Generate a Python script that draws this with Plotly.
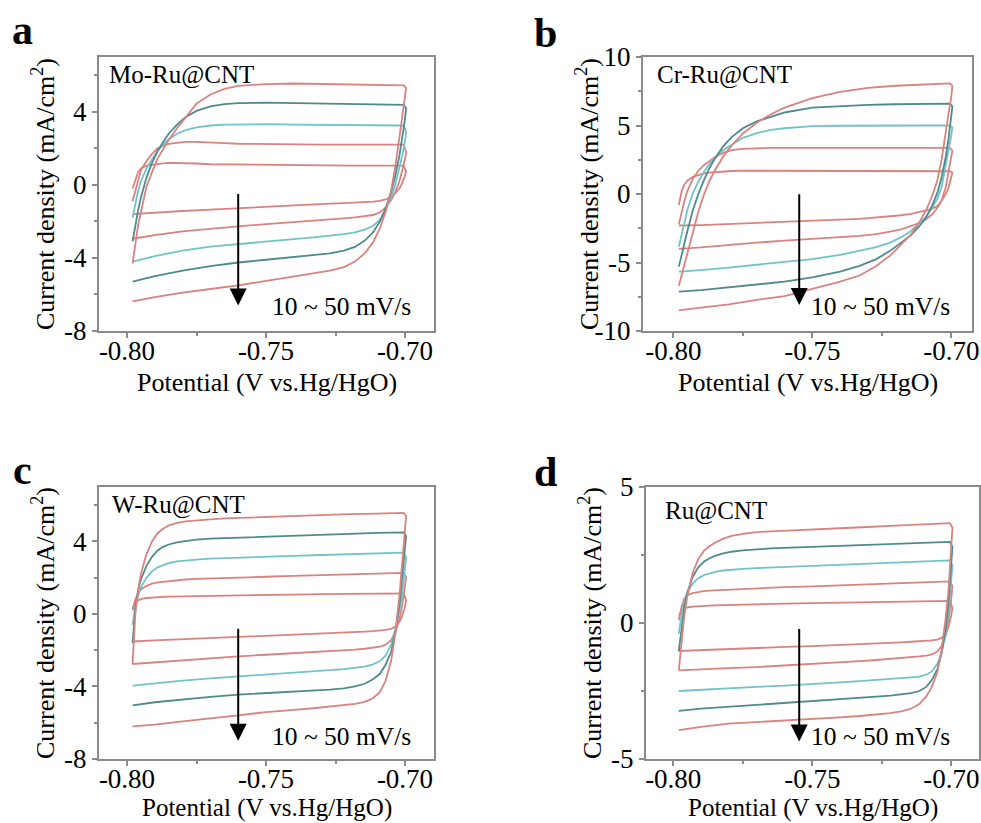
import plotly.graph_objects as go

# ---------------- data ----------------
SCAN_RATES = [10, 20, 30, 40, 50]  # mV/s

# shared potential grids (V vs Hg/HgO): anodic (forward) and cathodic (reverse) sweeps
X_UP = [-0.798, -0.797, -0.796, -0.795, -0.793, -0.791, -0.789, -0.787, -0.785, -0.782,
        -0.779, -0.775, -0.770, -0.765, -0.760, -0.750, -0.740, -0.730, -0.720, -0.710, -0.7005]
X_DN = [-0.6996, -0.7000, -0.7010, -0.7020, -0.7035, -0.7050, -0.7070, -0.7090, -0.7115, -0.7145,
        -0.718, -0.722, -0.727, -0.733, -0.740, -0.750, -0.760, -0.770, -0.780, -0.790, -0.798]

# (a) Mo-Ru@CNT, current density mA/cm2
MO_UP = [
    [-0.2, 0.3, 0.7, 0.9, 1.05, 1.1, 1.15, 1.18, 1.2, 1.2, 1.2, 1.17, 1.13, 1.12, 1.1, 1.08, 1.07, 1.06, 1.05, 1.05, 1.05],
    [-0.9, -0.3, 0.3, 0.8, 1.3, 1.7, 2.0, 2.15, 2.25, 2.32, 2.35, 2.35, 2.3, 2.28, 2.25, 2.22, 2.2, 2.2, 2.2, 2.2, 2.2],
    [-1.8, -1.0, -0.3, 0.2, 0.9, 1.4, 1.85, 2.2, 2.5, 2.8, 3.0, 3.15, 3.25, 3.3, 3.32, 3.32, 3.3, 3.28, 3.25, 3.25, 3.25],
    [-3.1, -2.2, -1.4, -0.7, 0.4, 1.2, 1.85, 2.35, 2.8, 3.3, 3.7, 4.05, 4.3, 4.42, 4.48, 4.5, 4.48, 4.45, 4.42, 4.4, 4.38],
    [-4.3, -3.2, -2.2, -1.5, -0.1, 0.7, 1.45, 1.95, 2.45, 3.1, 3.7, 4.45, 4.95, 5.25, 5.42, 5.52, 5.55, 5.53, 5.5, 5.48, 5.45],
]
MO_DN = [
    [0.75, 0.5, 0.1, -0.2, -0.45, -0.65, -0.8, -0.88, -0.92, -0.95, -0.98, -1.0, -1.03, -1.07, -1.12, -1.2, -1.27, -1.35, -1.43, -1.52, -1.6],
    [1.8, 1.4, 0.8, 0.2, -0.4, -0.85, -1.25, -1.5, -1.65, -1.72, -1.78, -1.83, -1.88, -1.95, -2.02, -2.15, -2.27, -2.4, -2.55, -2.75, -2.95],
    [2.9, 2.4, 1.6, 0.9, 0.0, -0.7, -1.4, -1.9, -2.25, -2.45, -2.6, -2.7, -2.8, -2.88, -2.97, -3.1, -3.22, -3.38, -3.6, -3.9, -4.2],
    [4.2, 3.6, 2.6, 1.6, 0.5, -0.4, -1.3, -2.0, -2.6, -3.05, -3.4, -3.6, -3.75, -3.85, -3.95, -4.1, -4.25, -4.45, -4.7, -5.0, -5.3],
    [5.3, 4.8, 3.7, 2.6, 1.0, -0.3, -1.5, -2.35, -3.15, -3.75, -4.2, -4.5, -4.7, -4.85, -5.0, -5.25, -5.5, -5.7, -5.9, -6.15, -6.38],
]

# (b) Cr-Ru@CNT
CR_UP = [
    [-0.8, 0.2, 0.7, 0.95, 1.25, 1.4, 1.5, 1.56, 1.6, 1.65, 1.68, 1.7, 1.7, 1.7, 1.7, 1.69, 1.68, 1.68, 1.67, 1.67, 1.66],
    [-2.2, -1.3, -0.5, 0.2, 1.1, 1.7, 2.1, 2.4, 2.7, 3.0, 3.2, 3.3, 3.35, 3.36, 3.37, 3.37, 3.37, 3.37, 3.37, 3.37, 3.37],
    [-3.85, -2.9, -2.0, -1.2, 0.05, 0.9, 1.6, 2.2, 2.65, 3.2, 3.6, 4.1, 4.45, 4.68, 4.8, 4.95, 4.98, 5.0, 5.0, 5.0, 5.0],
    [-5.3, -4.4, -3.5, -2.75, -1.2, 0.0, 1.0, 1.9, 2.6, 3.5, 4.15, 4.8, 5.3, 5.65, 5.95, 6.3, 6.42, 6.5, 6.55, 6.58, 6.6],
    [-6.7, -5.9, -5.1, -4.4, -2.9, -1.3, -0.05, 0.95, 1.75, 2.75, 3.55, 4.4, 5.2, 5.8, 6.3, 7.0, 7.45, 7.75, 7.9, 8.0, 8.07],
]
CR_DN = [
    [1.55, 1.2, 0.45, 0.0, -0.5, -0.88, -1.08, -1.2, -1.32, -1.45, -1.55, -1.63, -1.74, -1.82, -1.87, -1.96, -2.04, -2.12, -2.2, -2.27, -2.3],
    [3.15, 2.7, 1.4, 0.5, -0.5, -1.0, -1.5, -1.85, -2.12, -2.35, -2.58, -2.75, -2.93, -3.05, -3.13, -3.27, -3.4, -3.55, -3.74, -3.9, -4.0],
    [4.85, 4.3, 3.15, 2.0, 0.5, -0.35, -1.05, -1.63, -2.1, -2.7, -3.15, -3.55, -3.88, -4.15, -4.44, -4.75, -4.97, -5.17, -5.37, -5.55, -5.66],
    [6.4, 5.6, 4.0, 2.7, 1.2, 0.1, -0.9, -1.7, -2.35, -3.0, -3.55, -4.15, -4.75, -5.25, -5.66, -6.08, -6.4, -6.6, -6.83, -7.02, -7.12],
    [7.9, 7.1, 5.85, 4.4, 2.5, 1.0, -0.2, -1.15, -2.05, -2.95, -3.7, -4.5, -5.25, -5.95, -6.4, -6.95, -7.45, -7.73, -8.05, -8.3, -8.5],
]

# (c) W-Ru@CNT
W_UP = [
    [0.3, 0.6, 0.75, 0.82, 0.88, 0.91, 0.93, 0.94, 0.95, 0.96, 0.97, 0.98, 1.0, 1.01, 1.03, 1.05, 1.07, 1.09, 1.1, 1.12, 1.13],
    [0.2, 0.8, 1.15, 1.35, 1.55, 1.67, 1.74, 1.78, 1.82, 1.86, 1.9, 1.93, 1.96, 1.99, 2.01, 2.05, 2.1, 2.15, 2.2, 2.23, 2.26],
    [-0.6, 0.4, 1.0, 1.45, 2.0, 2.35, 2.57, 2.7, 2.8, 2.9, 2.95, 3.0, 3.05, 3.08, 3.1, 3.15, 3.2, 3.25, 3.3, 3.35, 3.38],
    [-1.6, 0.3, 1.3, 1.9, 2.65, 3.15, 3.5, 3.7, 3.83, 3.95, 4.02, 4.1, 4.15, 4.18, 4.22, 4.27, 4.32, 4.37, 4.42, 4.47, 4.5],
    [-2.75, 0.0, 1.3, 2.2, 3.3, 4.0, 4.45, 4.7, 4.88, 5.02, 5.1, 5.17, 5.22, 5.27, 5.3, 5.35, 5.4, 5.45, 5.5, 5.53, 5.57],
]
W_DN = [
    [0.75, 0.4, -0.1, -0.45, -0.7, -0.82, -0.88, -0.92, -0.95, -0.98, -1.0, -1.03, -1.06, -1.1, -1.14, -1.2, -1.26, -1.32, -1.38, -1.46, -1.52],
    [2.0, 1.5, 0.5, -0.3, -1.0, -1.45, -1.7, -1.8, -1.87, -1.92, -1.97, -2.0, -2.05, -2.1, -2.15, -2.25, -2.34, -2.44, -2.55, -2.67, -2.76],
    [3.1, 2.5, 1.2, 0.2, -0.9, -1.7, -2.3, -2.6, -2.78, -2.9, -2.98, -3.04, -3.1, -3.16, -3.22, -3.33, -3.43, -3.55, -3.68, -3.83, -3.95],
    [4.3, 3.6, 2.0, 0.5, -1.0, -2.1, -2.8, -3.3, -3.6, -3.85, -4.0, -4.1, -4.17, -4.22, -4.27, -4.35, -4.45, -4.57, -4.7, -4.87, -5.04],
    [5.4, 4.6, 2.8, 1.0, -1.1, -2.6, -3.7, -4.3, -4.65, -4.85, -4.96, -5.03, -5.12, -5.2, -5.29, -5.41, -5.6, -5.75, -5.93, -6.1, -6.2],
]

# (d) Ru@CNT
RU_UP = [
    [0.28, 0.45, 0.53, 0.57, 0.6, 0.62, 0.63, 0.64, 0.65, 0.66, 0.67, 0.68, 0.69, 0.7, 0.71, 0.73, 0.75, 0.76, 0.78, 0.8, 0.81],
    [0.1, 0.6, 0.9, 1.02, 1.1, 1.14, 1.17, 1.19, 1.2, 1.22, 1.24, 1.26, 1.28, 1.3, 1.32, 1.35, 1.39, 1.43, 1.46, 1.5, 1.53],
    [-0.4, 0.3, 0.8, 1.1, 1.45, 1.65, 1.76, 1.83, 1.88, 1.93, 1.96, 1.99, 2.02, 2.04, 2.06, 2.1, 2.14, 2.18, 2.22, 2.26, 2.3],
    [-1.03, -0.1, 0.6, 1.1, 1.7, 2.05, 2.25, 2.38, 2.47, 2.56, 2.62, 2.67, 2.71, 2.74, 2.76, 2.8, 2.84, 2.88, 2.92, 2.95, 2.98],
    [-1.74, -0.6, 0.3, 0.95, 1.85, 2.35, 2.65, 2.82, 2.95, 3.1, 3.2, 3.28, 3.34, 3.37, 3.39, 3.43, 3.48, 3.53, 3.58, 3.63, 3.67],
]
RU_DN = [
    [0.55, 0.3, -0.15, -0.4, -0.55, -0.61, -0.64, -0.66, -0.68, -0.69, -0.71, -0.73, -0.75, -0.77, -0.8, -0.85, -0.88, -0.92, -0.96, -1.0, -1.03],
    [1.35, 0.9, 0.1, -0.45, -0.85, -1.05, -1.15, -1.2, -1.23, -1.26, -1.29, -1.32, -1.36, -1.4, -1.44, -1.52, -1.57, -1.62, -1.66, -1.7, -1.74],
    [2.1, 1.5, 0.4, -0.4, -1.1, -1.5, -1.78, -1.9, -1.97, -2.0, -2.03, -2.06, -2.1, -2.14, -2.18, -2.25, -2.3, -2.35, -2.4, -2.46, -2.5],
    [2.8, 2.1, 0.8, -0.2, -1.1, -1.7, -2.1, -2.35, -2.5, -2.58, -2.63, -2.67, -2.71, -2.75, -2.8, -2.88, -2.94, -3.0, -3.07, -3.15, -3.23],
    [3.5, 2.7, 1.2, 0.2, -1.0, -1.8, -2.35, -2.7, -2.98, -3.15, -3.25, -3.31, -3.37, -3.42, -3.47, -3.53, -3.58, -3.63, -3.7, -3.82, -3.94],
]

SAMPLES = ["Mo-Ru@CNT", "Cr-Ru@CNT", "W-Ru@CNT", "Ru@CNT"]
PANEL_LETTERS = ["a", "b", "c", "d"]
X_TICKS = [-0.80, -0.75, -0.70]
X_TICK_TEXT = ["-0.80", "-0.75", "-0.70"]
Y_TICKS = [[-8, -4, 0, 4], [-10, -5, 0, 5, 10], [-8, -4, 0, 4], [-5, 0, 5]]
Y_MINOR = [[-6, -2, 2, 6], [-7.5, -2.5, 2.5, 7.5], [-6, -2, 2, 6], [-2.5, 2.5]]
Y_RANGES = [[-8, 7], [-10, 10], [-8, 7], [-5, 5]]
SPEED_TEXT = "10 ~ 50 mV/s"

# ---------------- styling / layout ----------------
W, H = 981, 823
PINK = "#d9827f"
DARK_TEAL = "#4f8a8c"
LIGHT_TEAL = "#6fc4c8"
COLORS = [PINK, PINK, LIGHT_TEAL, DARK_TEAL, PINK]
FRAME = "#8a8a8a"
FONT = "Liberation Serif, Times New Roman, serif"

# panel boxes in pixels (left, right, top, bottom)
BOXES = [(99, 434, 57, 331), (643, 972, 57, 331), (99, 434, 487, 759), (646, 979, 487, 759)]
X_RANGES = [[-0.81007, -0.68957], [-0.8109, -0.69255], [-0.81007, -0.68957], [-0.8098, -0.69004]]
ARROWS = [(-0.760, -0.42, -6.6), (-0.7547, 0.1, -8.1), (-0.760, -0.73, -7.0), (-0.7547, -0.17, -4.36)]
LETTER_POS = [(22, 30), (545, 33), (22, 470), (545, 472)]
NAME_POS = [(0.024, 0.935), (0.036, 0.935), (0.033, 0.935), (0.051, 0.912)]
SPEED_POS = [(0.937, 0.088), (0.939, 0.088), (0.937, 0.081), (0.919, 0.081)]
XTITLE_GAP = [51, 51, 49, 49]
XTITLE_SIZE = [26, 26, 25, 25]

ups = [MO_UP, CR_UP, W_UP, RU_UP]
dns = [MO_DN, CR_DN, W_DN, RU_DN]

fig = go.Figure()
annotations = []
for p in range(4):
    ax_id = "" if p == 0 else str(p + 1)
    xref, yref = "x" + ax_id, "y" + ax_id
    for i, rate in enumerate(SCAN_RATES):
        fig.add_trace(go.Scatter(
            x=X_UP + X_DN, y=ups[p][i] + dns[p][i],
            mode="lines", line=dict(color=COLORS[i], width=1.8),
            name=f"{rate} mV/s", showlegend=False,
            xaxis=xref, yaxis=yref,
        ))
    l, r, t, b = BOXES[p]
    xdom = [l / W, r / W]
    ydom = [1 - b / H, 1 - t / H]
    common = dict(showline=True, linecolor=FRAME, linewidth=2, mirror=True,
                  showgrid=False, zeroline=False, ticks="outside", ticklen=5,
                  tickcolor=FRAME, tickwidth=1.5, automargin=False,
                  tickfont=dict(family=FONT, size=27, color="black"))
    fig.update_layout({
        "xaxis" + ax_id: dict(domain=xdom, range=X_RANGES[p], anchor=yref,
                              tickvals=X_TICKS, ticktext=X_TICK_TEXT, ticklabelstandoff=-10,
                              minor=dict(tickvals=[-0.775, -0.725], ticks="outside", ticklen=3,
                                         tickcolor=FRAME, tickwidth=1.5),
                              **common),
        "yaxis" + ax_id: dict(domain=ydom, range=Y_RANGES[p], anchor=xref,
                              tickvals=Y_TICKS[p], ticktext=[str(v) for v in Y_TICKS[p]],
                              minor=dict(tickvals=Y_MINOR[p], ticks="outside", ticklen=3,
                                         tickcolor=FRAME, tickwidth=1.5),
                              **common),
    })
    # arrow
    ax_x, y0, y1 = ARROWS[p]
    annotations.append(dict(x=ax_x, y=y1, ax=ax_x, ay=y0, xref=xref, yref=yref,
                            axref=xref, ayref=yref, text="", showarrow=True,
                            arrowhead=2, arrowsize=1.7, arrowwidth=2, arrowcolor="black"))
    # sample label
    annotations.append(dict(x=NAME_POS[p][0], y=NAME_POS[p][1], xref=xref + " domain",
                            yref=yref + " domain", text=SAMPLES[p], showarrow=False,
                            xanchor="left", yanchor="middle",
                            font=dict(family=FONT, size=25, color="black")))
    annotations.append(dict(x=SPEED_POS[p][0], y=SPEED_POS[p][1], xref=xref + " domain",
                            yref=yref + " domain", text=SPEED_TEXT, showarrow=False,
                            xanchor="right", yanchor="middle",
                            font=dict(family=FONT, size=25.5, color="black")))
    # axis titles
    annotations.append(dict(x=(l + r) / 2 / W, y=1 - (b + XTITLE_GAP[p]) / H, xref="paper", yref="paper",
                            text="Potential (V vs.Hg/HgO)", showarrow=False,
                            xanchor="center", yanchor="middle",
                            font=dict(family=FONT, size=XTITLE_SIZE[p], color="black")))
    annotations.append(dict(x=(l - 56) / W, y=1 - (t + b) / 2 / H, xref="paper", yref="paper",
                            text="Current density (mA/cm<sup>2</sup>)", textangle=-90,
                            showarrow=False, xanchor="center", yanchor="middle",
                            font=dict(family=FONT, size=26, color="black")))
    # panel letter
    annotations.append(dict(x=LETTER_POS[p][0] / W, y=1 - LETTER_POS[p][1] / H,
                            xref="paper", yref="paper", text="<b>" + PANEL_LETTERS[p] + "</b>",
                            showarrow=False, xanchor="center", yanchor="middle",
                            font=dict(family=FONT, size=42, color="black")))

fig.update_layout(width=W, height=H, margin=dict(l=0, r=0, t=0, b=0, autoexpand=False),
                  paper_bgcolor="white", plot_bgcolor="white",
                  showlegend=False, annotations=annotations)

# remove the browser's default 8px body margin so the figure sits at the page origin
fig.write_html("out.html", config={"displayModeBar": False},
               post_script="document.body.style.margin='0';")
